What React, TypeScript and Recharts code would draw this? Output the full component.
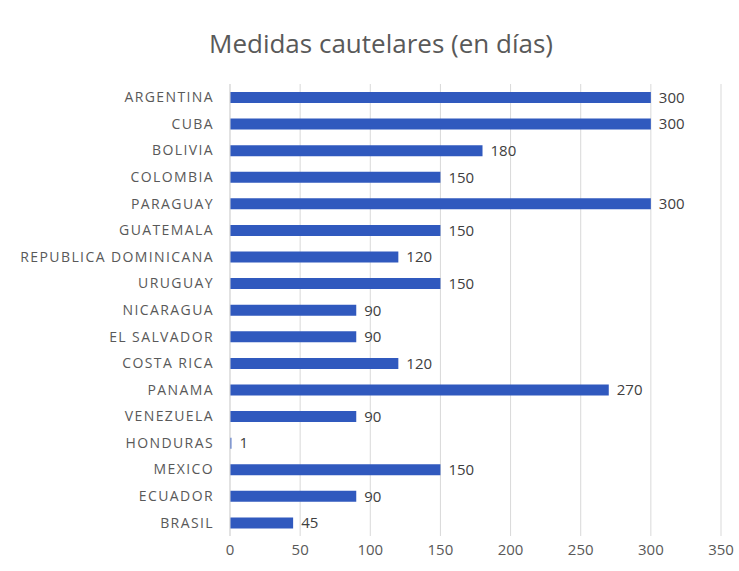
import { BarChart, Bar, XAxis, YAxis, CartesianGrid, LabelList } from "recharts";

const countries = [
  "ARGENTINA",
  "CUBA",
  "BOLIVIA",
  "COLOMBIA",
  "PARAGUAY",
  "GUATEMALA",
  "REPUBLICA DOMINICANA",
  "URUGUAY",
  "NICARAGUA",
  "EL SALVADOR",
  "COSTA RICA",
  "PANAMA",
  "VENEZUELA",
  "HONDURAS",
  "MEXICO",
  "ECUADOR",
  "BRASIL",
];
const days = [300, 300, 180, 150, 300, 150, 120, 150, 90, 90, 120, 270, 90, 1, 150, 90, 45];
const xTicks = [0, 50, 100, 150, 200, 250, 300, 350];

const data = countries.map((name, i) => ({ name, value: days[i] }));

const font = "'Open Sans', 'Noto Sans', sans-serif";

export default function App() {
  return (
    <div style={{ position: "absolute", left: 0, top: 0, width: 739, height: 571, background: "#fff", fontFamily: font }}>
      <div
        style={{
          position: "absolute",
          top: 25,
          left: 0,
          width: 762,
          textAlign: "center",
          fontSize: 26,
          color: "#595959",
        }}
      >
        Medidas cautelares (en días)
      </div>
      <BarChart
        width={739}
        height={571}
        data={data}
        layout="vertical"
        margin={{ top: 84, right: 18, bottom: 5, left: 0 }}
        barSize={11}
      >
        <CartesianGrid horizontal={false} stroke="#d9d9d9" />
        <XAxis
          type="number"
          domain={[0, 350]}
          ticks={xTicks}
          axisLine={false}
          tickLine={false}
          tickMargin={2}
          height={30}
          tick={{ fontSize: 15, fill: "#595959", fontFamily: font }}
        />
        <YAxis
          type="category"
          dataKey="name"
          width={230}
          axisLine={{ stroke: "#d9d9d9" }}
          tickLine={false}
          tickSize={0}
          tickMargin={16}
          interval={0}
          tick={{ fontSize: 14, fill: "#595959", fontFamily: font, letterSpacing: 1.4 }}
        />
        <Bar dataKey="value" fill="#3059be" isAnimationActive={false}>
          <LabelList dataKey="value" position="right" offset={8} fill="#404040" fontSize={15} fontFamily={font} />
        </Bar>
      </BarChart>
    </div>
  );
}
